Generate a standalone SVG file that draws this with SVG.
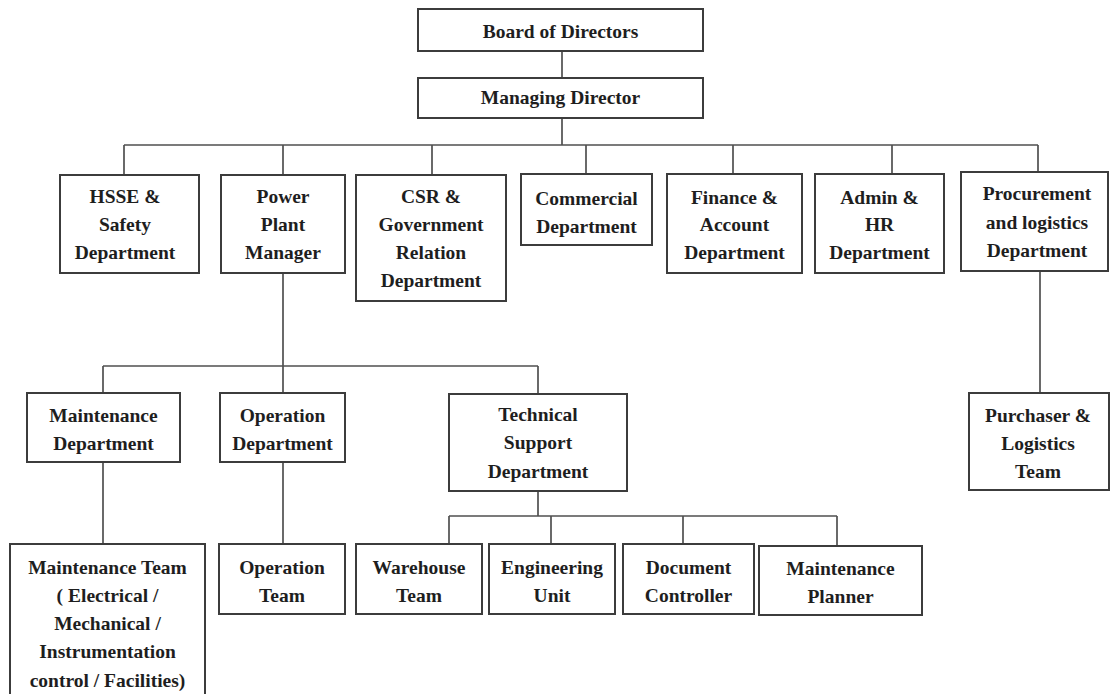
<svg xmlns="http://www.w3.org/2000/svg" width="1112" height="694" viewBox="0 0 1112 694">
<style>
.box{fill:#fff;stroke:#3c3c3c;stroke-width:2}
.t{font-family:"Liberation Serif","Times New Roman",serif;font-weight:bold;font-size:19.5px;fill:#1e1e1e;text-anchor:middle}
.c{fill:none;stroke:#505050;stroke-width:1.7}
</style>
<rect width="1112" height="694" fill="#fff"/>
<g id="connectors">
<path class="c" d="M562 51V78M562 118V145M124 145H1038M124 145V175M283 145V175M432 145V175M586 145V174M733 145V174M892 145V174M1038 145V172"/>
<path class="c" d="M283 273V393M103 366H538M103 366V393M538 366V394M1040 271V393"/>
<path class="c" d="M103 462V544M283 462V544M538 491V516M449 516H837M449 516V544M551 516V544M683 516V544M837 516V546"/>
</g>
<g id="board"><rect class="box" x="418" y="9" width="285" height="42"/><text class="t" x="560.5" y="38">Board of Directors</text></g>
<g id="md"><rect class="box" x="418" y="78" width="285" height="40"/><text class="t" x="560.5" y="104">Managing Director</text></g>
<g id="hsse"><rect class="box" x="60" y="175" width="139" height="98"/><text class="t" x="125" y="202.5">HSSE &amp;</text><text class="t" x="125" y="230.5">Safety</text><text class="t" x="125" y="258.5">Department</text></g>
<g id="ppm"><rect class="box" x="221" y="175" width="124" height="98"/><text class="t" x="283" y="202.5">Power</text><text class="t" x="283" y="230.5">Plant</text><text class="t" x="283" y="258.5">Manager</text></g>
<g id="csr"><rect class="box" x="356" y="175" width="150" height="126"/><text class="t" x="431" y="202.5">CSR &amp;</text><text class="t" x="431" y="230.5">Government</text><text class="t" x="431" y="258.5">Relation</text><text class="t" x="431" y="286.5">Department</text></g>
<g id="commercial"><rect class="box" x="521" y="174" width="131" height="71"/><text class="t" x="586.5" y="204.5">Commercial</text><text class="t" x="586.5" y="232.5">Department</text></g>
<g id="finance"><rect class="box" x="667" y="174" width="135" height="99"/><text class="t" x="734.5" y="203.5">Finance &amp;</text><text class="t" x="734.5" y="231">Account</text><text class="t" x="734.5" y="258.5">Department</text></g>
<g id="admin"><rect class="box" x="815" y="174" width="129" height="99"/><text class="t" x="879.5" y="203.5">Admin &amp;</text><text class="t" x="879.5" y="231">HR</text><text class="t" x="879.5" y="258.5">Department</text></g>
<g id="procurement"><rect class="box" x="961" y="172" width="147" height="99"/><text class="t" x="1037" y="199.5">Procurement</text><text class="t" x="1037" y="228.5">and logistics</text><text class="t" x="1037" y="256.5">Department</text></g>
<g id="maint-dept"><rect class="box" x="27" y="393" width="153" height="69"/><text class="t" x="103.5" y="421.5">Maintenance</text><text class="t" x="103.5" y="449.5">Department</text></g>
<g id="op-dept"><rect class="box" x="220" y="393" width="125" height="69"/><text class="t" x="282.5" y="421.5">Operation</text><text class="t" x="282.5" y="449.5">Department</text></g>
<g id="tech-support"><rect class="box" x="449" y="394" width="178" height="97"/><text class="t" x="538" y="420.5">Technical</text><text class="t" x="538" y="449">Support</text><text class="t" x="538" y="477.5">Department</text></g>
<g id="purchaser"><rect class="box" x="969" y="393" width="140" height="97"/><text class="t" x="1038" y="421.5">Purchaser &amp;</text><text class="t" x="1038" y="449.5">Logistics</text><text class="t" x="1038" y="477.5">Team</text></g>
<g id="maint-team"><rect class="box" x="10" y="544" width="195" height="160"/><text class="t" x="107.5" y="573.5">Maintenance Team</text><text class="t" x="107.5" y="601.5">( Electrical /</text><text class="t" x="107.5" y="629.5">Mechanical /</text><text class="t" x="107.5" y="658">Instrumentation</text><text class="t" x="107.5" y="686.5">control / Facilities)</text></g>
<g id="op-team"><rect class="box" x="219" y="544" width="126" height="70"/><text class="t" x="282" y="573.5">Operation</text><text class="t" x="282" y="601.5">Team</text></g>
<g id="warehouse"><rect class="box" x="356" y="544" width="126" height="70"/><text class="t" x="419" y="573.5">Warehouse</text><text class="t" x="419" y="601.5">Team</text></g>
<g id="engineering"><rect class="box" x="489" y="544" width="126" height="70"/><text class="t" x="552" y="573.5">Engineering</text><text class="t" x="552" y="601.5">Unit</text></g>
<g id="document"><rect class="box" x="623" y="544" width="131" height="70"/><text class="t" x="688.5" y="573.5">Document</text><text class="t" x="688.5" y="601.5">Controller</text></g>
<g id="planner"><rect class="box" x="759" y="546" width="163" height="69"/><text class="t" x="840.5" y="574.5">Maintenance</text><text class="t" x="840.5" y="602.5">Planner</text></g>
</svg>
